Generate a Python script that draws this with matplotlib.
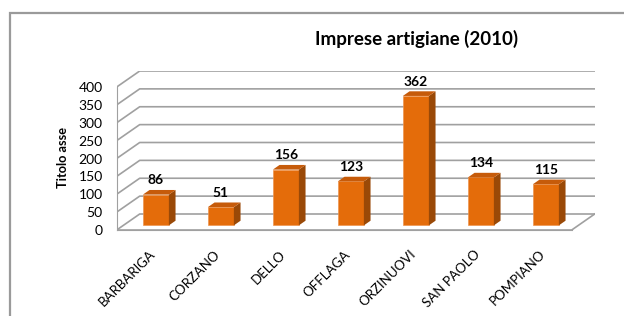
import numpy as np
import matplotlib.pyplot as plt
from matplotlib.patches import Polygon, Rectangle

plt.rcParams['font.family'] = ['Lato', 'DejaVu Sans']

# data
comuni = ["BARBARIGA", "CORZANO", "DELLO", "OFFLAGA", "ORZINUOVI", "SAN PAOLO", "POMPIANO"]
imprese = [86, 51, 156, 123, 362, 134, 115]
y_ticks = [0, 50, 100, 150, 200, 250, 300, 350, 400]
titolo = "Imprese artigiane (2010)"
titolo_asse = "Titolo asse"

W, H = 624, 316
fig = plt.figure(figsize=(W / 100, H / 100), dpi=100)

# layout in pixels (front-left floor corner, depth offset of the 3d box)
x0_px, y0_px = 116.7, 230
unit_px = 65.0
val_px = 143 / 400
dx_px, dy_px = 23, 16
DX = dx_px / unit_px
DY = dy_px / val_px
n = len(comuni)
ymax = y_ticks[-1]

ax_w = n * unit_px + dx_px
ax_h = ymax * val_px + dy_px
ax = fig.add_axes([x0_px / W, (H - y0_px) / H, ax_w / W, ax_h / H])
ax.set_xlim(-0.5, n - 0.5 + DX)
ax.set_ylim(0, ymax + DY)

grid_col = '#a0a0a0'
# back wall + side wall gridlines
for v in y_ticks:
    ax.plot([-0.5, -0.5 + DX, n - 0.5 + DX], [v, v + DY, v + DY],
            color=grid_col, lw=1.2, zorder=1)
# floor
ax.plot([-0.5, n - 0.5, n - 0.5 + DX], [0, 0, DY], color=grid_col, lw=1.2, zorder=1)

# bars: front face at depth f0, bar depth fb
f0, fb = 0.29, 0.29
bw = 0.4
x = np.arange(n)
front = '#E46C0A'
top_col = '#C65B0A'
side_col = '#9A4907'
xs = x + f0 * DX
ax.bar(xs, imprese, width=bw, bottom=f0 * DY, color=front,
       edgecolor='#EE9550', linewidth=0.5, zorder=3)
for xi, v in zip(xs, imprese):
    xl, xr = xi - bw / 2, xi + bw / 2
    yb, yt = f0 * DY, f0 * DY + v
    ddx, ddy = fb * DX, fb * DY
    ax.add_patch(Polygon([(xr, yb), (xr + ddx, yb + ddy), (xr + ddx, yt + ddy), (xr, yt)],
                         closed=True, facecolor=side_col, edgecolor='none', zorder=3))
    ax.add_patch(Polygon([(xl, yt), (xr, yt), (xr + ddx, yt + ddy), (xl + ddx, yt + ddy)],
                         closed=True, facecolor=top_col, edgecolor='none', zorder=3))
    ax.annotate(str(v), (xi, yt + ddy), xytext=(0, 4), textcoords='offset points',
                ha='center', va='baseline', fontsize=10, fontweight='bold', zorder=4)

# axes
for s in ['top', 'right']:
    ax.spines[s].set_visible(False)
ax.spines['left'].set_bounds(0, ymax)
ax.spines['bottom'].set_bounds(-0.5, n - 0.5)
ax.spines['left'].set_color(grid_col)
ax.spines['bottom'].set_color(grid_col)
ax.set_yticks(y_ticks)
ax.tick_params(axis='y', length=0, pad=10, labelsize=10)
ax.set_xticks(x)
ax.set_xticklabels(comuni, rotation=45, ha='right', va='top', rotation_mode='anchor', fontsize=9.5)
ax.tick_params(axis='x', length=0, pad=13)

fig.text(416.5 / W, 1 - 45 / H, titolo, ha='center', va='baseline',
         fontsize=13.5, fontweight='bold')
fig.text(62.7 / W, 1 - 158 / H, titolo_asse, ha='center', va='center', rotation=90,
         fontsize=9.2, fontweight='bold')

# chart area border
fig.add_artist(Rectangle((10 / W, -0.2), 1.2, 1.2 - 12.7 / H, transform=fig.transFigure,
                         fill=False, edgecolor='#9a9a9a', lw=1.6, joinstyle='miter'))

fig.savefig('out.png', dpi=100)
